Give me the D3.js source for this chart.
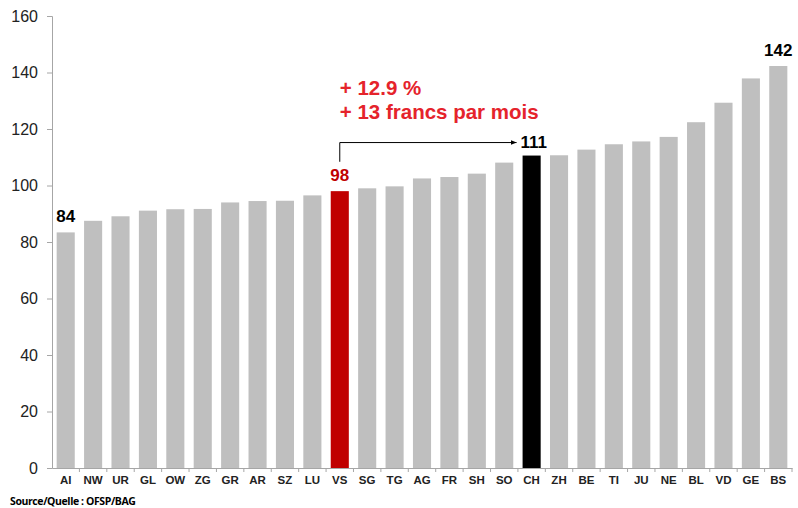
<!DOCTYPE html>
<html>
<head>
<meta charset="utf-8">
<script src="https://cdn.jsdelivr.net/npm/d3@7"></script>
<style>
    body { margin: 0; background: white; }
    svg { display: block; font-family: 'Liberation Sans', Arial, sans-serif; }
</style>
</head>
<body>
<svg class="main" width="798" height="508"></svg>
<script>
// cantons, sorted by premium index
const cantons = ['AI', 'NW', 'UR', 'GL', 'OW', 'ZG', 'GR', 'AR', 'SZ', 'LU', 'VS', 'SG', 'TG', 'AG',
    'FR', 'SH', 'SO', 'CH', 'ZH', 'BE', 'TI', 'JU', 'NE', 'BL', 'VD', 'GE', 'BS'];
const values = [83.4, 87.5, 89.1, 91.1, 91.6, 91.7, 94.0, 94.5, 94.6, 96.5, 98.0, 99.0, 99.7, 102.5,
    103.0, 104.2, 108.1, 110.6, 110.7, 112.7, 114.6, 115.6, 117.2, 122.4, 129.3, 137.9, 142.3];
const yTicks = [0, 20, 40, 60, 80, 100, 120, 140, 160];
const valueLabels = [
    { canton: 'AI', text: '84' },
    { canton: 'VS', text: '98' },
    { canton: 'CH', text: '111' },
    { canton: 'BS', text: '142' }
];
const noteLines = ['+ 12.9 %', '+ 13 francs par mois'];

const colors = { bar: '#bfbfbf', home: '#c00000', swiss: '#000000', note: '#e5232b', axis: '#a6a6a6' };

const svg = d3.select('svg.main'),
    margin = { top: 16, left: 52, right: 6, bottom: 40 },
    width = 798,
    height = 508;

const x = d3.scaleBand()
    .domain(cantons)
    .range([margin.left, width - margin.right])
    .paddingInner(0.34)
    .paddingOuter(0.17);

const y = d3.scaleLinear()
    .domain([0, 160])
    .range([height - margin.bottom, margin.top]);

const data = cantons.map((c, i) => ({ canton: c, value: values[i] }));

function barColor(d) {
    if (d.canton === 'VS') return colors.home;
    if (d.canton === 'CH') return colors.swiss;
    return colors.bar;
}

svg.append('g')
    .selectAll('rect')
    .data(data)
    .enter()
    .append('rect')
    .attr('x', d => x(d.canton))
    .attr('y', d => y(d.value))
    .attr('width', x.bandwidth())
    .attr('height', d => y(0) - y(d.value))
    .attr('fill', barColor);

// y axis
const yAxis = svg.append('g')
    .attr('transform', 'translate(' + margin.left + ',0)')
    .call(d3.axisLeft(y).tickValues(yTicks).tickSize(5).tickPadding(9));

yAxis.select('.domain').attr('stroke', colors.axis);
yAxis.selectAll('.tick line').attr('stroke', colors.axis);
yAxis.selectAll('.tick text')
    .attr('font-size', 16)
    .attr('font-family', 'Liberation Sans, Arial, sans-serif')
    .attr('fill', '#222');

// x axis, ticks sit between the bars
const xAxis = svg.append('g')
    .attr('transform', 'translate(0,' + y(0) + ')')
    .call(d3.axisBottom(x).tickSize(0).tickPadding(8));

xAxis.select('.domain').attr('stroke', colors.axis);
xAxis.selectAll('.tick text')
    .attr('font-size', 11.5)
    .attr('font-weight', 'bold')
    .attr('font-family', 'Liberation Sans, Arial, sans-serif')
    .attr('fill', '#222');

const step = x.step();
xAxis.selectAll('line.sep')
    .data(cantons)
    .enter()
    .append('line')
    .classed('sep', true)
    .attr('x1', d => x(d) + x.bandwidth() + (step - x.bandwidth()) / 2)
    .attr('x2', d => x(d) + x.bandwidth() + (step - x.bandwidth()) / 2)
    .attr('y1', 0)
    .attr('y2', 4)
    .attr('stroke', colors.axis);

// value labels
svg.append('g')
    .selectAll('text')
    .data(valueLabels)
    .enter()
    .append('text')
    .text(d => d.text)
    .attr('x', d => x(d.canton) + x.bandwidth() / 2 + (d.canton === 'CH' ? 2 : 0))
    .attr('y', d => y(values[cantons.indexOf(d.canton)]) - (d.canton === 'CH' ? 8 : 10))
    .attr('text-anchor', 'middle')
    .attr('font-size', 17)
    .attr('font-weight', 'bold')
    .attr('fill', d => d.canton === 'VS' ? colors.home : '#000');

// arrow from VS to CH
const defs = svg.append('defs');
defs.append('marker')
    .attr('id', 'head')
    .attr('viewBox', '0 0 10 10')
    .attr('refX', 10)
    .attr('refY', 5)
    .attr('markerWidth', 6)
    .attr('markerHeight', 6)
    .attr('orient', 'auto')
    .append('path')
    .attr('d', 'M0,1 L10,5 L0,9 Z')
    .attr('fill', '#000');

const xVS = x('VS') + x.bandwidth() / 2,
    xCH = x('CH') - 6,
    yArrow = y(115.2);

svg.append('path')
    .attr('d', 'M' + xVS + ',' + y(108.4) + ' V' + yArrow + ' H' + xCH)
    .attr('fill', 'none')
    .attr('stroke', '#000')
    .attr('stroke-width', 1)
    .attr('marker-end', 'url(#head)');

svg.append('g')
    .selectAll('text')
    .data(noteLines)
    .enter()
    .append('text')
    .text(d => d)
    .attr('x', xVS)
    .attr('y', (d, i) => 95 + i * 23.5)
    .attr('font-size', 20.5)
    .attr('font-weight', 'bold')
    .attr('fill', colors.note);

svg.append('text')
    .text('Source/Quelle : OFSP/BAG')
    .attr('x', 10)
    .attr('y', 505)
    .attr('font-family', 'Open Sans, sans-serif')
    .attr('font-size', 10.5)
    .attr('font-weight', 'bold')
    .attr('letter-spacing', -0.4)
    .attr('fill', '#000');
</script>
</body>
</html>
